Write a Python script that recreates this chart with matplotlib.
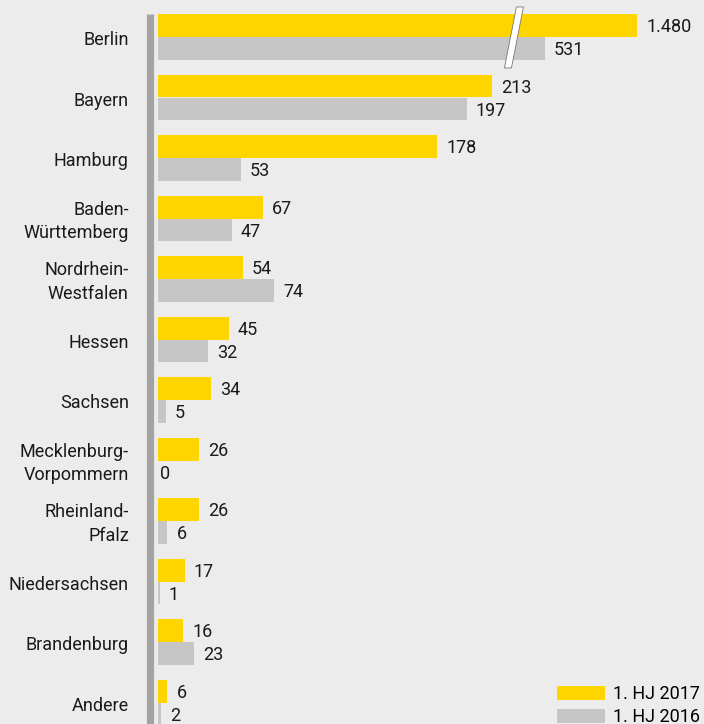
import numpy as np
import matplotlib
matplotlib.use("Agg")
import matplotlib.pyplot as plt
from matplotlib.patches import Polygon
from matplotlib.lines import Line2D

# data: new businesses per state, first half-year
states = ["Berlin", "Bayern", "Hamburg", "Baden-\nWürttemberg", "Nordrhein-\nWestfalen",
          "Hessen", "Sachsen", "Mecklenburg-\nVorpommern", "Rheinland-\nPfalz",
          "Niedersachsen", "Brandenburg", "Andere"]
hj2017 = [1480, 213, 178, 67, 54, 45, 34, 26, 26, 17, 16, 6]
hj2016 = [531, 197, 53, 47, 74, 32, 5, 0, 6, 1, 23, 2]
labels_2017 = ["1.480", "213", "178", "67", "54", "45", "34", "26", "26", "17", "16", "6"]
labels_2016 = ["531", "197", "53", "47", "74", "32", "5", "0", "6", "1", "23", "2"]
series_names = ["1. HJ 2017", "1. HJ 2016"]

BG = "#ececec"
YELLOW = "#ffd500"
GREY = "#c5c6c5"
AXIS = "#a3a3a3"

plt.rcParams['font.family'] = ['Roboto', 'DejaVu Sans']

# axis break: everything above BRK is squeezed
BRK = 228
SQUEEZE = 0.062


def shown(v):
    v = np.asarray(v, dtype=float)
    return np.where(v > BRK, BRK + (v - BRK) * SQUEEZE, v)


W, H = 704, 724
fig = plt.figure(figsize=(W / 100, H / 100), dpi=100, facecolor=BG)
x0 = 158
ax = fig.add_axes([x0 / W, 0, 1 - x0 / W, 1])
ax.set_facecolor(BG)

px_per_unit = 1.568
ax.set_xlim(0, (W - x0) / px_per_unit)
row_px = 60.5
top_px = 37
ax.set_ylim((H - top_px) / row_px, -top_px / row_px)

y = np.arange(len(states))
bh = 0.38
ax.barh(y - bh / 2, shown(hj2017), height=bh, color=YELLOW, label=series_names[0])
ax.barh(y + bh / 2, shown(hj2016), height=bh, color=GREY, label=series_names[1])

fs = 13
for i in range(len(states)):
    ax.annotate(labels_2017[i], (shown(hj2017[i]), y[i] - bh / 2), xytext=(6.5, -1.4),
                textcoords="offset points", va="center", ha="left", fontsize=fs, color="#1a1a1a")
    off = 1.5 if hj2016[i] == 0 else 6.5
    ax.annotate(labels_2016[i], (shown(hj2016[i]), y[i] + bh / 2), xytext=(off, -1.4),
                textcoords="offset points", va="center", ha="left", fontsize=fs, color="#1a1a1a")
    ax.annotate(states[i], (0, y[i]), xytext=(-21, -2.2), textcoords="offset points",
                va="center", ha="right", fontsize=fs, color="#1a1a1a", linespacing=1.37,
                annotation_clip=False)

# break marker across Berlin bars
bx = 227
top = -0.612 + 7 / row_px
bot = -0.612 + 68 / row_px
d = 6 / px_per_unit
w = 3.5 / px_per_unit
brk = Polygon([(bx + d - w, top), (bx + d + w, top), (bx - d + w, bot), (bx - d - w, bot)],
              closed=True, facecolor="white", edgecolor="#777777", linewidth=0.6, zorder=5)
ax.add_patch(brk)

# thick vertical axis line
fig.add_artist(Line2D([149.5 / W, 149.5 / W], [0, 1 - 14 / H], transform=fig.transFigure,
                      color=AXIS, linewidth=5.2, solid_capstyle="butt"))

for s in ax.spines.values():
    s.set_visible(False)
ax.set_xticks([])
ax.set_yticks([])

leg = fig.legend(loc="upper left", bbox_to_anchor=(557 / W, 1 - 685 / H), frameon=False,
                 fontsize=fs, handlelength=2.65, handleheight=0.78, handletextpad=0.45,
                 labelspacing=0.3, borderpad=0, borderaxespad=0)

fig.savefig("out.png", dpi=100, facecolor=BG)
